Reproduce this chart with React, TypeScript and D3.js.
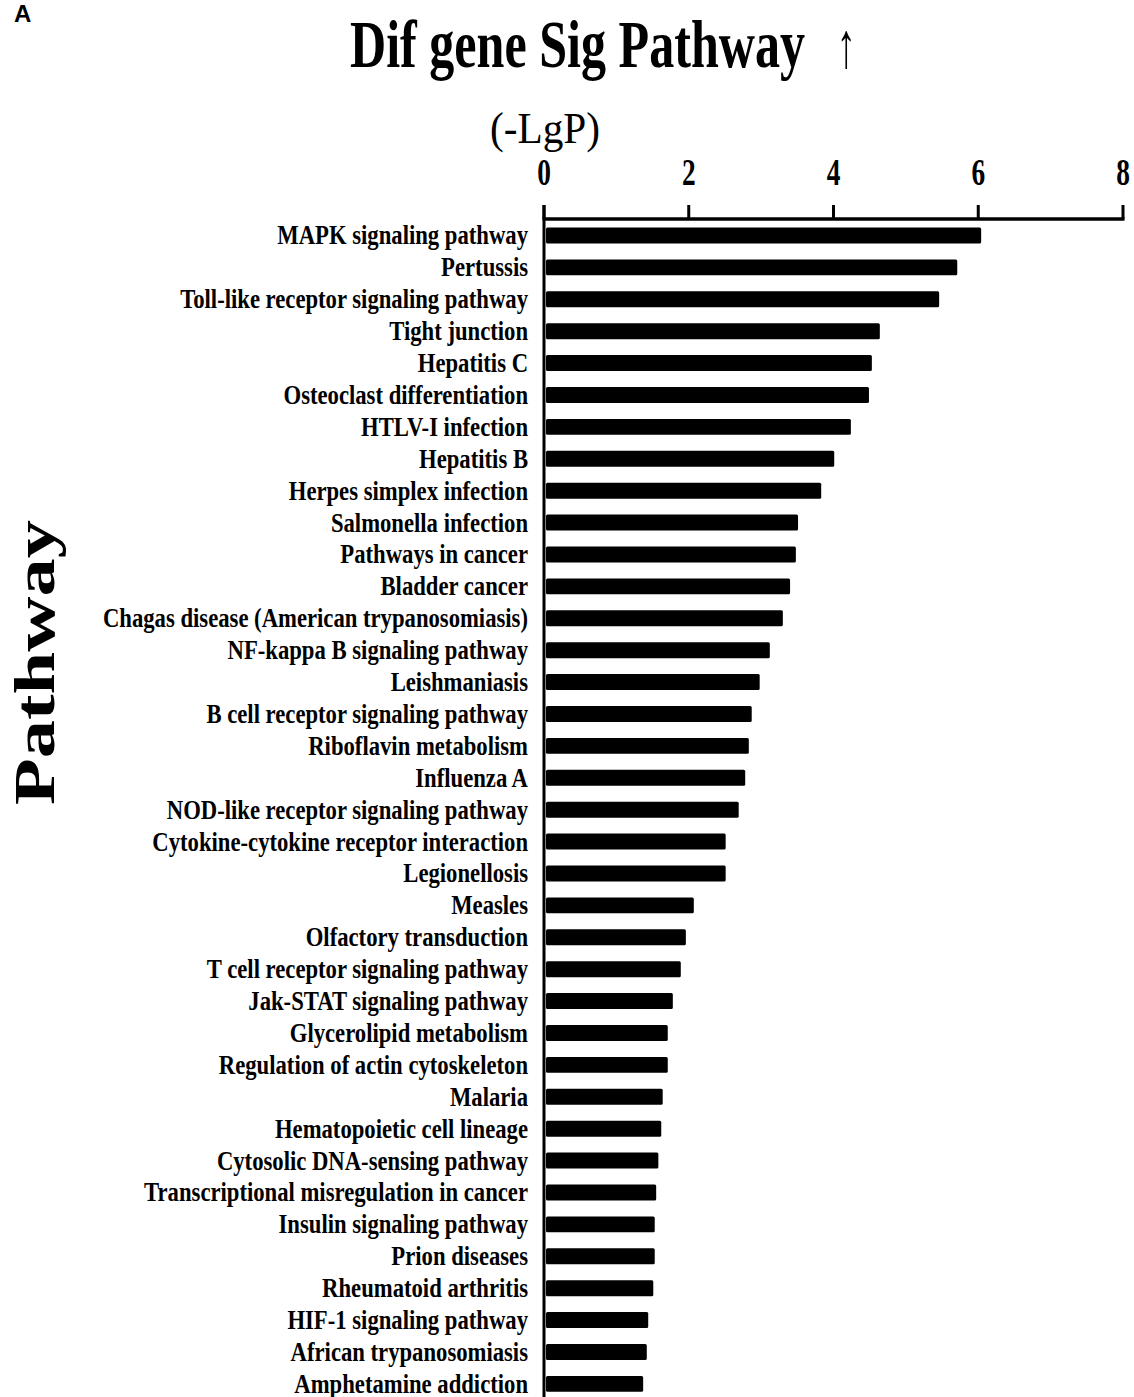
import React from "react";
import * as d3 from "d3";

const pathways: string[] = [
  "MAPK signaling pathway",
  "Pertussis",
  "Toll-like receptor signaling pathway",
  "Tight junction",
  "Hepatitis C",
  "Osteoclast differentiation",
  "HTLV-I infection",
  "Hepatitis B",
  "Herpes simplex infection",
  "Salmonella infection",
  "Pathways in cancer",
  "Bladder cancer",
  "Chagas disease (American trypanosomiasis)",
  "NF-kappa B signaling pathway",
  "Leishmaniasis",
  "B cell receptor signaling pathway",
  "Riboflavin metabolism",
  "Influenza A",
  "NOD-like receptor signaling pathway",
  "Cytokine-cytokine receptor interaction",
  "Legionellosis",
  "Measles",
  "Olfactory transduction",
  "T cell receptor signaling pathway",
  "Jak-STAT signaling pathway",
  "Glycerolipid metabolism",
  "Regulation of actin cytoskeleton",
  "Malaria",
  "Hematopoietic cell lineage",
  "Cytosolic DNA-sensing pathway",
  "Transcriptional misregulation in cancer",
  "Insulin signaling pathway",
  "Prion diseases",
  "Rheumatoid arthritis",
  "HIF-1 signaling pathway",
  "African trypanosomiasis",
  "Amphetamine addiction",
];

const negLogP: number[] = [
  6.04, 5.71, 5.46, 4.64, 4.53, 4.49, 4.24, 4.01, 3.83, 3.51, 3.48, 3.4, 3.3,
  3.12, 2.98, 2.87, 2.83, 2.78, 2.69, 2.51, 2.51, 2.07, 1.96, 1.89, 1.78, 1.71,
  1.71, 1.64, 1.62, 1.58, 1.55, 1.53, 1.53, 1.51, 1.44, 1.42, 1.37,
];

const xTicks: number[] = [0, 2, 4, 6, 8];

const W = 1134;
const H = 1397;

export default function App() {
  const x = d3.scaleLinear().domain([0, 8]).range([544, 1123]);
  const y = d3
    .scaleBand<string>()
    .domain(pathways)
    .range([219.5, 219.5 + pathways.length * 31.9])
    .paddingInner(0.5)
    .paddingOuter(0.25);
  const axisY = 219;
  const serif = "'Liberation Serif', 'Times New Roman', serif";

  return (
    <svg
      width={W}
      height={H}
      style={{ position: "absolute", left: 0, top: 0, background: "#fff" }}
      fontFamily={serif}
    >
      <rect x={0} y={0} width={W} height={H} fill="#fff" />
      {/* panel letter */}
      <text
        x={14}
        y={22}
        fontFamily="'Liberation Sans', Arial, sans-serif"
        fontWeight="bold"
        fontSize={24}
      >
        A
      </text>
      {/* title */}
      <text
        transform="translate(350,67) scale(0.737,1)"
        fontWeight="bold"
        fontSize={68}
      >
        Dif gene Sig Pathway
      </text>
      <text transform="translate(846,67) scale(0.6,1)" fontSize={64} textAnchor="middle">
        ↑
      </text>
      {/* x axis label */}
      <text
        x={490}
        y={143}
        fontSize={44}
        textLength={110}
        lengthAdjust="spacingAndGlyphs"
      >
        (-LgP)
      </text>
      {/* x axis */}
      <line x1={x(0) - 1.5} x2={x(8) + 1.5} y1={axisY} y2={axisY} stroke="#000" strokeWidth={3.5} />
      {xTicks.map((t) => (
        <g key={t}>
          <line x1={x(t)} x2={x(t)} y1={axisY} y2={205} stroke="#000" strokeWidth={3} />
          <text
            transform={`translate(${x(t)},185) scale(0.74,1)`}
            textAnchor="middle"
            fontWeight="bold"
            fontSize={37}
          >
            {t}
          </text>
        </g>
      ))}
      {/* y axis */}
      <line x1={x(0)} x2={x(0)} y1={205} y2={H} stroke="#000" strokeWidth={3} />
      {/* bars */}
      {pathways.map((p, i) => (
        <rect
          key={p}
          x={x(0) + 2}
          y={y(p)!}
          width={x(negLogP[i]) - x(0) - 2}
          height={y.bandwidth()}
          rx={1.5}
          fill="#000"
        />
      ))}
      {/* labels */}
      {pathways.map((p) => (
        <text
          key={p}
          transform={`translate(528,${y(p)! + y.bandwidth() / 2 + 9}) scale(0.825,1)`}
          textAnchor="end"
          fontWeight="bold"
          fontSize={27.5}
        >
          {p}
        </text>
      ))}
      {/* y axis title */}
      <text
        transform="translate(54,805) rotate(-90)"
        fontWeight="bold"
        fontSize={57}
        textLength={285}
        lengthAdjust="spacingAndGlyphs"
      >
        Pathway
      </text>
    </svg>
  );
}
